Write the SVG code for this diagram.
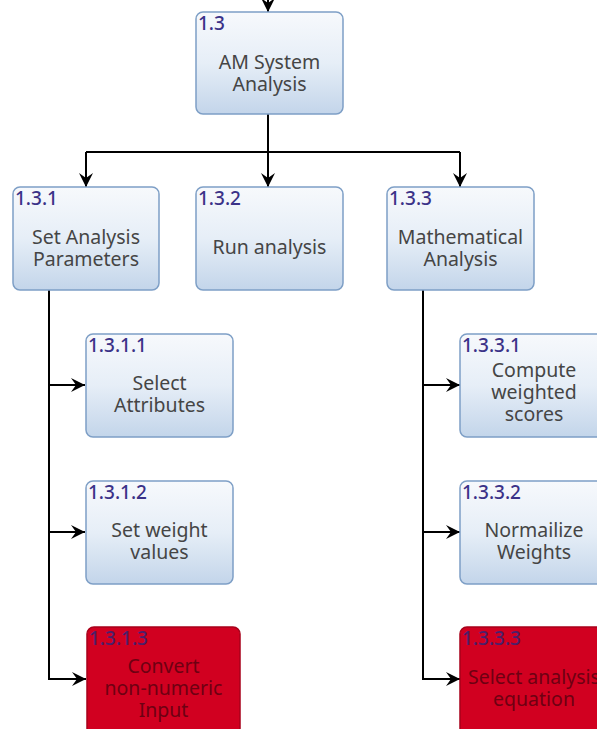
<svg xmlns="http://www.w3.org/2000/svg" width="597" height="729" viewBox="0 0 597 729">
  <defs>
    <linearGradient id="boxFill" x1="0" y1="0" x2="0" y2="1">
      <stop offset="0" stop-color="#f7f9fc"/>
      <stop offset="0.5" stop-color="#e6eef7"/>
      <stop offset="1" stop-color="#c3d5ea"/>
    </linearGradient>
    <marker id="arrow" viewBox="0 0 16 16" refX="15" refY="8" markerWidth="16" markerHeight="16" markerUnits="userSpaceOnUse" orient="auto">
      <path d="M1,1 L15,8 L1,15 L6,8 z" fill="#000"/>
    </marker>
  </defs>
  <style>
    .box { fill: url(#boxFill); stroke: #7e9fc6; stroke-width: 1.5; }
    .red { fill: #d10020; stroke: #a8001a; stroke-width: 1.5; }
    .num { font-family: "Noto Sans", "Open Sans", sans-serif; font-size: 19px; font-weight: 500; fill: #3b3288; }
    .numRed { font-family: "Noto Sans", "Open Sans", sans-serif; font-size: 19px; font-weight: 500; fill: #4a1f6a; }
    .lbl { font-family: "Noto Sans", "Open Sans", sans-serif; font-size: 19.5px; fill: #454545; text-anchor: middle; }
    .lblRed { font-family: "Noto Sans", "Open Sans", sans-serif; font-size: 19.5px; fill: #6e0012; text-anchor: middle; }
    .wire { fill: none; stroke: #000; stroke-width: 2; }
  </style>

  <!-- connectors -->
  <g id="connectors">
    <path class="wire" d="M268,0 L268,12" marker-end="url(#arrow)"/>
    <path class="wire" d="M268,114 L268,152"/>
    <path class="wire" d="M86,152 L460,152"/>
    <path class="wire" d="M86,152 L86,187" marker-end="url(#arrow)"/>
    <path class="wire" d="M268,152 L268,187" marker-end="url(#arrow)"/>
    <path class="wire" d="M460,152 L460,187" marker-end="url(#arrow)"/>
    <path class="wire" d="M49,290 L49,679 L86,679" marker-end="url(#arrow)"/>
    <path class="wire" d="M49,385 L85,385" marker-end="url(#arrow)"/>
    <path class="wire" d="M49,532 L85,532" marker-end="url(#arrow)"/>
    <path class="wire" d="M423,290 L423,679 L460,679" marker-end="url(#arrow)"/>
    <path class="wire" d="M423,385 L460,385" marker-end="url(#arrow)"/>
    <path class="wire" d="M423,532 L460,532" marker-end="url(#arrow)"/>
  </g>

  <g id="n1_3">
    <rect class="box" x="196" y="12" width="147" height="102" rx="7"/>
    <text class="num" x="198" y="30">1.3</text>
    <text class="lbl" x="269.5" y="69">AM System</text>
    <text class="lbl" x="269.5" y="91">Analysis</text>
  </g>

  <g id="n1_3_1">
    <rect class="box" x="13" y="187" width="146" height="103" rx="7"/>
    <text class="num" x="15" y="205">1.3.1</text>
    <text class="lbl" x="86" y="244">Set Analysis</text>
    <text class="lbl" x="86" y="266">Parameters</text>
  </g>

  <g id="n1_3_2">
    <rect class="box" x="196" y="187" width="147" height="103" rx="7"/>
    <text class="num" x="198" y="205">1.3.2</text>
    <text class="lbl" x="269.5" y="254">Run analysis</text>
  </g>

  <g id="n1_3_3">
    <rect class="box" x="387" y="187" width="147" height="103" rx="7"/>
    <text class="num" x="389" y="205">1.3.3</text>
    <text class="lbl" x="460.5" y="244">Mathematical</text>
    <text class="lbl" x="460.5" y="266">Analysis</text>
  </g>

  <g id="n1_3_1_1">
    <rect class="box" x="86" y="334" width="147" height="103" rx="7"/>
    <text class="num" x="88" y="352">1.3.1.1</text>
    <text class="lbl" x="159.5" y="390">Select</text>
    <text class="lbl" x="159.5" y="412">Attributes</text>
  </g>

  <g id="n1_3_1_2">
    <rect class="box" x="86" y="481" width="147" height="103" rx="7"/>
    <text class="num" x="88" y="499">1.3.1.2</text>
    <text class="lbl" x="159.5" y="537">Set weight</text>
    <text class="lbl" x="159.5" y="559">values</text>
  </g>

  <g id="n1_3_1_3">
    <rect class="red" x="87" y="627" width="153" height="108" rx="7"/>
    <text class="numRed" x="89" y="645">1.3.1.3</text>
    <text class="lblRed" x="163.5" y="673">Convert</text>
    <text class="lblRed" x="163.5" y="695">non-numeric</text>
    <text class="lblRed" x="163.5" y="717">Input</text>
  </g>

  <g id="n1_3_3_1">
    <rect class="box" x="460" y="334" width="148" height="103" rx="7"/>
    <text class="num" x="462" y="352">1.3.3.1</text>
    <text class="lbl" x="534" y="377">Compute</text>
    <text class="lbl" x="534" y="399">weighted</text>
    <text class="lbl" x="534" y="421">scores</text>
  </g>

  <g id="n1_3_3_2">
    <rect class="box" x="460" y="481" width="148" height="103" rx="7"/>
    <text class="num" x="462" y="499">1.3.3.2</text>
    <text class="lbl" x="534" y="537">Normailize</text>
    <text class="lbl" x="534" y="559">Weights</text>
  </g>

  <g id="n1_3_3_3">
    <rect class="red" x="460" y="627" width="152" height="108" rx="7"/>
    <text class="numRed" x="462" y="645">1.3.3.3</text>
    <text class="lblRed" x="534" y="684">Select analysis</text>
    <text class="lblRed" x="534" y="706">equation</text>
  </g>
</svg>
